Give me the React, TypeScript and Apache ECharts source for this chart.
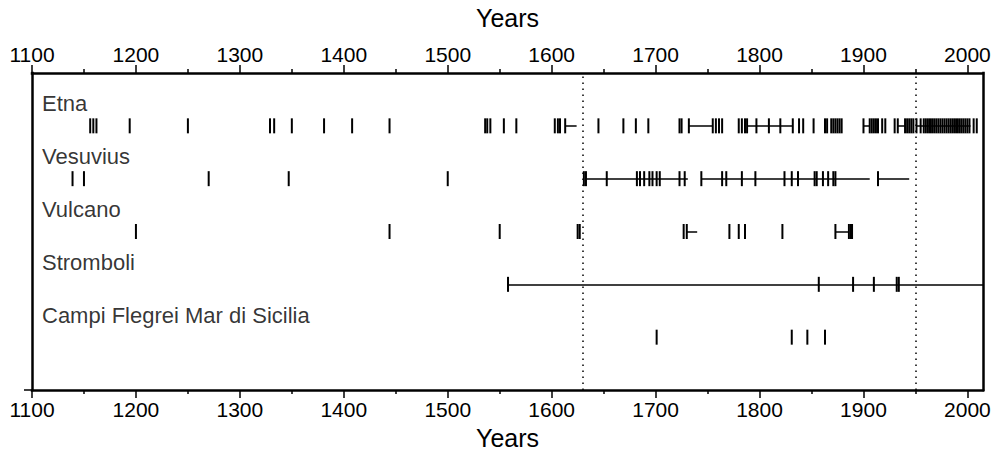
import React, { useEffect, useRef } from "react";
import * as echarts from "echarts";

// ---- data ----
const X_MIN = 1100;
const X_MAX = 2015;
const TICK_YEARS = [1100, 1200, 1300, 1400, 1500, 1600, 1700, 1800, 1900, 2000];
const MINOR_TICK_YEARS = [1150, 1250, 1350, 1450, 1550, 1650, 1750, 1850, 1950];
const MARKER_YEARS = [1630, 1950];

const VOLCANO_NAMES = ["Etna", "Vesuvius", "Vulcano", "Stromboli", "Campi Flegrei Mar di Sicilia"];
const VOLCANO_ROWS = [5, 4, 3, 2, 1];

const ETNA_ERUPTIONS = [
  1156, 1159, 1162, 1194, 1250, 1329, 1333, 1350, 1381, 1408, 1444, 1536, 1538, 1541, 1554, 1566,
  1603, 1606, 1608, 1613, 1645, 1669, 1681, 1693, 1723, 1725, 1732, 1755, 1758, 1761, 1764,
  1780, 1783, 1786, 1788, 1797, 1809, 1820, 1832, 1838, 1842, 1852, 1863, 1865, 1869, 1871,
  1873, 1875, 1877, 1879, 1900, 1906, 1908, 1910, 1912, 1914, 1918, 1921, 1930, 1933, 1940,
  1942, 1944, 1946, 1948, 1951, 1955, 1958, 1960, 1962, 1964, 1966, 1968, 1970, 1972, 1974,
  1976, 1978, 1980, 1982, 1984, 1986, 1988, 1990, 1992, 1994, 1996, 1998, 2000, 2002, 2006, 2009,
];
const ETNA_PERIODS: [number, number][] = [
  [1613, 1624], [1732, 1755], [1788, 1832], [1900, 1906], [1933, 1940], [1951, 2003],
];

const VESUVIUS_ERUPTIONS = [
  1139, 1150, 1270, 1347, 1500, 1631, 1633, 1653, 1682, 1685, 1689, 1694, 1697, 1701, 1704,
  1723, 1728, 1744, 1764, 1768, 1783, 1796, 1824, 1831, 1837, 1853, 1855, 1861, 1866, 1871,
  1873, 1914,
];
const VESUVIUS_PERIODS: [number, number][] = [[1633, 1731], [1744, 1906], [1914, 1944]];

const VULCANO_ERUPTIONS = [
  1200, 1444, 1550, 1625, 1627, 1727, 1730, 1771, 1780, 1786, 1822, 1873, 1886, 1888, 1889,
];
const VULCANO_PERIODS: [number, number][] = [[1730, 1740], [1873, 1886]];

const STROMBOLI_ERUPTIONS = [1558, 1857, 1890, 1910, 1932, 1934];
const STROMBOLI_PERIODS: [number, number][] = [[1558, 2015]];

const CAMPI_ERUPTIONS = [1701, 1831, 1846, 1863];
const CAMPI_PERIODS: [number, number][] = [];

const ALL_ERUPTIONS = [ETNA_ERUPTIONS, VESUVIUS_ERUPTIONS, VULCANO_ERUPTIONS, STROMBOLI_ERUPTIONS, CAMPI_ERUPTIONS];
const ALL_PERIODS = [ETNA_PERIODS, VESUVIUS_PERIODS, VULCANO_PERIODS, STROMBOLI_PERIODS, CAMPI_PERIODS];

const FONT = "Liberation Sans";

export default function App() {
  const ref = useRef<HTMLDivElement>(null);

  useEffect(() => {
    if (!ref.current) return;
    const chart = echarts.init(ref.current, undefined, { renderer: "svg" });

    const eruptionData: number[][] = [];
    ALL_ERUPTIONS.forEach((list, i) => list.forEach((y) => eruptionData.push([y, VOLCANO_ROWS[i]])));
    const periodData: any[] = [];
    ALL_PERIODS.forEach((list, i) =>
      list.forEach(([s, e]) => periodData.push({ coords: [[s, VOLCANO_ROWS[i]], [e, VOLCANO_ROWS[i]]] }))
    );
    const labelData = VOLCANO_NAMES.map((n, i) => ({ name: n, value: [X_MIN, VOLCANO_ROWS[i]] }));

    const axisLineStyle = { color: "#000", width: 2.5, cap: "square" as const };
    const tickLineStyle = { color: "#000", width: 1.5 };
    const labelStyle = { fontSize: 21, color: "#000", fontFamily: FONT };
    const nameStyle = { fontSize: 25, color: "#000", fontFamily: FONT };

    const majorAxis = (position: "top" | "bottom", margin: number, nameGap: number) => ({
      type: "value",
      position,
      min: X_MIN,
      max: X_MAX,
      interval: 100,
      name: "Years",
      nameLocation: "middle",
      nameGap,
      nameTextStyle: nameStyle,
      axisLine: { show: true, onZero: false, lineStyle: axisLineStyle },
      axisTick: { show: true, length: 8, lineStyle: tickLineStyle, customValues: TICK_YEARS },
      axisLabel: {
        show: true,
        margin,
        ...labelStyle,
        customValues: TICK_YEARS,
        formatter: (v: number) => String(v),
      },
      splitLine: { show: false },
    });
    const minorAxis = (position: "top" | "bottom") => ({
      type: "value",
      position,
      min: X_MIN,
      max: X_MAX,
      interval: 50,
      axisLine: { show: false, onZero: false },
      axisTick: { show: true, length: 4, lineStyle: tickLineStyle, customValues: MINOR_TICK_YEARS },
      axisLabel: { show: false },
      splitLine: { show: false },
    });

    chart.setOption({
      animation: false,
      backgroundColor: "#fff",
      grid: { left: 32, right: 13, top: 73, bottom: 71, containLabel: false, outerBoundsMode: "none" },
      xAxis: [majorAxis("bottom", 9, 35), majorAxis("top", 8, 43), minorAxis("bottom"), minorAxis("top")],
      yAxis: [
        {
          type: "value",
          position: "left",
          min: 0,
          max: 6,
          interval: 6,
          axisLine: { show: true, onZero: false, lineStyle: axisLineStyle },
          axisTick: { show: true, length: 8, lineStyle: tickLineStyle, customValues: [0] },
          axisLabel: { show: false },
          splitLine: { show: false },
        },
        {
          type: "value",
          position: "right",
          min: 0,
          max: 6,
          axisLine: { show: true, onZero: false, lineStyle: axisLineStyle },
          axisTick: { show: false },
          axisLabel: { show: false },
          splitLine: { show: false },
        },
      ],
      series: [
        {
          type: "lines",
          coordinateSystem: "cartesian2d",
          xAxisIndex: 0,
          yAxisIndex: 0,
          silent: true,
          data: periodData,
          lineStyle: { color: "#000", width: 1.5, opacity: 1, curveness: 0 },
        },
        {
          type: "scatter",
          xAxisIndex: 0,
          yAxisIndex: 0,
          silent: true,
          symbol: "rect",
          symbolSize: [2, 15],
          itemStyle: { color: "#000", opacity: 1 },
          data: eruptionData,
          markLine: {
            silent: true,
            symbol: ["none", "none"],
            label: { show: false },
            lineStyle: { color: "#000", width: 1.5, type: [1.5, 4.5] },
            data: MARKER_YEARS.map((y) => ({ xAxis: y })),
          },
        },
        {
          type: "scatter",
          xAxisIndex: 0,
          yAxisIndex: 0,
          silent: true,
          symbolSize: 0,
          data: labelData,
          label: {
            show: true,
            position: "right",
            distance: 10,
            offset: [0, -22],
            formatter: "{b}",
            fontSize: 22,
            color: "#000",
            fontFamily: FONT,
          },
        },
      ],
    });

    return () => chart.dispose();
  }, []);

  return (
    <div
      ref={ref}
      style={{ position: "absolute", left: 0, top: 0, width: 996, height: 461, background: "#fff" }}
    />
  );
}
